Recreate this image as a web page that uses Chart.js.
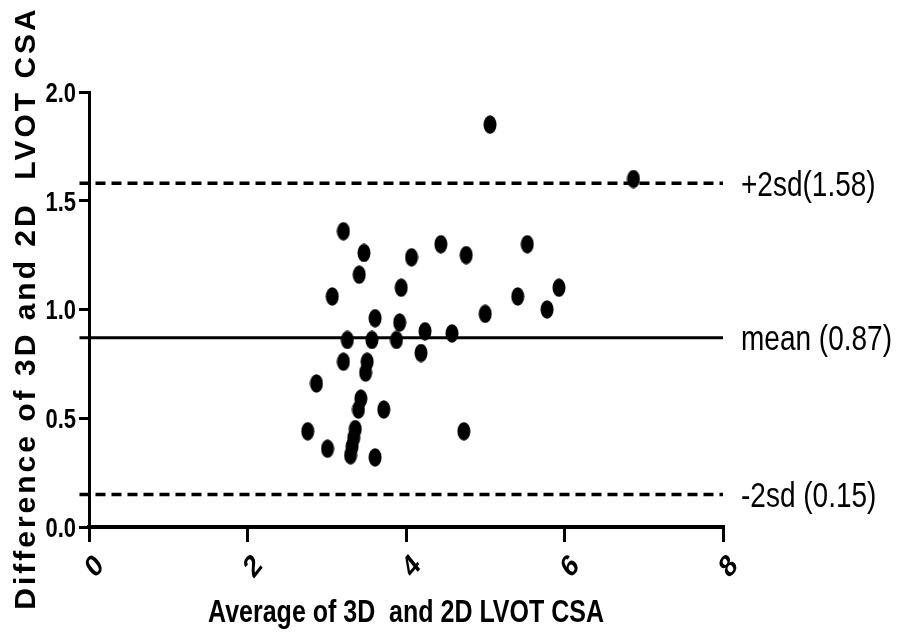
<!DOCTYPE html>
<html>
<head>
<meta charset="utf-8">
<script src="https://cdn.jsdelivr.net/npm/chart.js@4.4.0/dist/chart.umd.min.js"></script>
<style>
  html, body { margin: 0; padding: 0; background: #fff; }
  #wrap { width: 906px; height: 632px; }
</style>
</head>
<body>
<div id="wrap"><canvas id="chart" width="906" height="632"></canvas></div>
<script>
// Bland-Altman data
const avgValues = [3.21, 3.47, 3.41, 3.07, 4.07, 4.44, 4.76, 3.94, 3.61, 3.92, 5.00, 4.24, 4.58,
  3.26, 3.57, 3.88, 4.19, 3.21, 3.51, 3.49, 2.87, 3.43, 3.40, 3.72, 2.76, 4.73, 3.36, 3.34,
  3.32, 3.30, 3.01, 3.61, 5.06, 6.87, 5.53, 5.93, 5.41, 5.78];
const diffValues = [1.36, 1.26, 1.16, 1.06, 1.24, 1.30, 1.25, 1.10, 0.96, 0.94, 0.98, 0.90, 0.89,
  0.86, 0.86, 0.86, 0.80, 0.76, 0.76, 0.71, 0.66, 0.59, 0.54, 0.54, 0.44, 0.44, 0.45, 0.41,
  0.37, 0.33, 0.36, 0.32, 1.85, 1.60, 1.30, 1.10, 1.06, 1.00];

const limitValues = [1.58, 0.87, 0.15];
const limitLabels = ['+2sd(1.58)', 'mean (0.87)', '-2sd (0.15)'];
const lineStart = -0.12, lineEnd = 8;

const xTickLabels = ['0', '2', '4', '6', '8'];
const yTickLabels = ['0.0', '0.5', '1.0', '1.5', '2.0'];
const xTitle = 'Average of 3D  and 2D LVOT CSA';
const yTitle = 'Difference of 3D and 2D  LVOT CSA';

// oval marker (the figure is a bit stretched vertically)
const dot = document.createElement('canvas');
dot.width = 14; dot.height = 19;
const dctx = dot.getContext('2d');
dctx.fillStyle = '#000';
dctx.beginPath();
dctx.ellipse(7, 9.5, 6.5, 9.2, 0, 0, Math.PI * 2);
dctx.fill();

const points = avgValues.map((x, i) => ({ x, y: diffValues[i] }));

const limitLine = (v, dashed) => ({
  type: 'line',
  data: [{ x: lineStart, y: v }, { x: lineEnd, y: v }],
  borderColor: '#000',
  borderWidth: dashed ? 3.5 : 3,
  borderDash: dashed ? [10, 6] : [],
  pointRadius: 0,
  clip: false,
  order: 2
});

// draws every text item: the figure's fonts are condensed, so text gets stretched 1.25 tall
const textPlugin = {
  id: 'figureText',
  afterDraw(chart) {
    const { ctx, scales: { x, y } } = chart;
    ctx.save();
    ctx.fillStyle = '#000';

    // y tick labels
    ctx.font = 'bold 22px "Liberation Sans", Arial, sans-serif';
    ctx.textAlign = 'right';
    ctx.textBaseline = 'alphabetic';
    y.ticks.forEach((t, i) => {
      const py = y.getPixelForValue(t.value);
      ctx.save();
      ctx.translate(76, py + 9.8);
      ctx.scale(1, 1.25);
      ctx.fillText(yTickLabels[i], 0, 0);
      ctx.restore();
    });

    // x tick labels, rotated 45deg
    ctx.font = 'bold 25px "Liberation Sans", Arial, sans-serif';
    ctx.textAlign = 'center';
    ctx.textBaseline = 'middle';
    x.ticks.forEach((t, i) => {
      const px = x.getPixelForValue(t.value);
      ctx.save();
      ctx.translate(px + 6, 567);
      ctx.scale(1, 1.25);
      ctx.rotate(-Math.PI / 4);
      ctx.fillText(xTickLabels[i], 0, 0);
      ctx.restore();
    });

    // axis titles
    ctx.font = 'bold 25px "Liberation Sans", Arial, sans-serif';
    ctx.textBaseline = 'alphabetic';
    ctx.save();
    ctx.translate((x.left + x.right) / 2, 622);
    ctx.scale(1, 1.25);
    ctx.fillText(xTitle, 0, 0);
    ctx.restore();

    ctx.font = 'bold 30px "Liberation Sans", Arial, sans-serif';
    ctx.letterSpacing = '3px';
    ctx.save();
    ctx.translate(35, 308);
    ctx.rotate(-Math.PI / 2);
    ctx.fillText(yTitle, 0, 0);
    ctx.restore();
    ctx.letterSpacing = '0px';

    // limit labels on the right
    ctx.font = '28px "Liberation Sans", Arial, sans-serif';
    ctx.textAlign = 'left';
    limitValues.forEach((v, i) => {
      const py = y.getPixelForValue(v);
      ctx.save();
      ctx.translate(741, py + 12.5);
      ctx.scale(1, 1.25);
      ctx.fillText(limitLabels[i], 0, 0);
      ctx.restore();
    });

    ctx.restore();
  }
};

new Chart(document.getElementById('chart').getContext('2d'), {
  type: 'scatter',
  data: {
    datasets: [
      {
        data: points,
        pointStyle: dot,
        pointRadius: 7,
        showLine: false,
        order: 1
      },
      limitLine(limitValues[0], true),
      limitLine(limitValues[1], false),
      limitLine(limitValues[2], true)
    ]
  },
  options: {
    responsive: false,
    animation: false,
    layout: { padding: { left: 79, right: 183, top: 92, bottom: 90 } },
    plugins: { legend: { display: false }, tooltip: { enabled: false } },
    scales: {
      x: {
        type: 'linear', min: 0, max: 8,
        ticks: { stepSize: 2, display: false },
        grid: { drawOnChartArea: false, drawTicks: true, tickLength: 15, color: '#000', lineWidth: 3 },
        border: { display: true, color: '#000', width: 4 }
      },
      y: {
        type: 'linear', min: 0, max: 2,
        ticks: { stepSize: 0.5, display: false },
        grid: { drawOnChartArea: false, drawTicks: true, tickLength: 10, color: '#000', lineWidth: 3 },
        border: { display: true, color: '#000', width: 3 }
      }
    }
  },
  plugins: [textPlugin]
});
</script>
</body>
</html>
